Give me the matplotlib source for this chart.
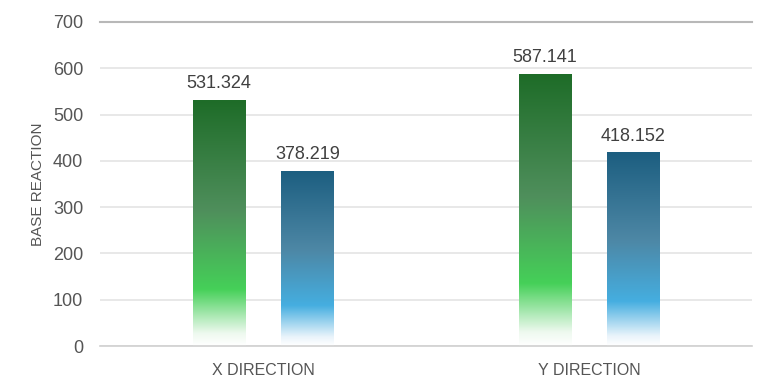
import matplotlib.pyplot as plt
import numpy as np
from matplotlib.colors import LinearSegmentedColormap
from matplotlib.patches import Rectangle

plt.rcParams['font.family'] = ['Liberation Sans', 'DejaVu Sans']

categories = ['X DIRECTION', 'Y DIRECTION']
series_a = [531.324, 587.141]
series_b = [378.219, 418.152]
value_labels_a = ['531.324', '587.141']
value_labels_b = ['378.219', '418.152']

green_cmap = LinearSegmentedColormap.from_list('g', [
    (0.0, '#ffffff'), (0.05, '#eef9ef'), (0.23, '#45d058'),
    (0.55, '#4f8f5c'), (1.0, '#1e6c28')])
blue_cmap = LinearSegmentedColormap.from_list('b', [
    (0.0, '#ffffff'), (0.05, '#eaf4fb'), (0.23, '#45aee0'),
    (0.55, '#4d87a5'), (1.0, '#1c5e80')])

fig = plt.figure(figsize=(7.68, 3.9), dpi=100)
ax = fig.add_axes([0.1302, 0.1128, 0.849, 0.8308])

x = np.arange(len(categories))
width = 0.16
offset = 0.136

grad = np.linspace(0, 1, 256).reshape(-1, 1)


def gradient_bar(xc, h, cmap):
    rect = Rectangle((xc - width / 2, 0), width, h, facecolor='none',
                     edgecolor='none')
    ax.add_patch(rect)
    im = ax.imshow(grad, cmap=cmap, origin='lower', aspect='auto',
                   extent=(xc - width / 2, xc + width / 2, 0, h), zorder=2)
    im.set_clip_path(rect)


for i in range(len(categories)):
    gradient_bar(x[i] - offset, series_a[i], green_cmap)
    gradient_bar(x[i] + offset, series_b[i], blue_cmap)
    ax.text(x[i] - offset, series_a[i] + 17, value_labels_a[i], ha='center',
            va='bottom', fontsize=13, color='#404040')
    ax.text(x[i] + offset, series_b[i] + 17, value_labels_b[i], ha='center',
            va='bottom', fontsize=13, color='#404040')

ax.set_xlim(-0.5, 1.5)
ax.set_ylim(0, 700)
ax.set_yticks(np.arange(0, 701, 100))
ax.set_xticks(x)
ax.set_xticklabels(categories)
ax.tick_params(axis='y', length=0, pad=12, labelsize=13, labelcolor='#555555')
ax.tick_params(axis='x', length=0, pad=12, labelsize=11.5, labelcolor='#555555')
ax.grid(axis='y', color='#e4e4e4', linewidth=1.2, zorder=0)
ax.set_axisbelow(True)
for s in ['left', 'right', 'top']:
    ax.spines[s].set_visible(False)
ax.spines['bottom'].set_color('#d0d0d0')
ax.spines['bottom'].set_linewidth(1.2)
ax.axhline(700, color='#b8b8b8', linewidth=1.5, zorder=1, clip_on=False)
ax.set_ylabel('BASE REACTION', fontsize=11, color='#555555', labelpad=6)

fig.savefig('out.png', dpi=100)
